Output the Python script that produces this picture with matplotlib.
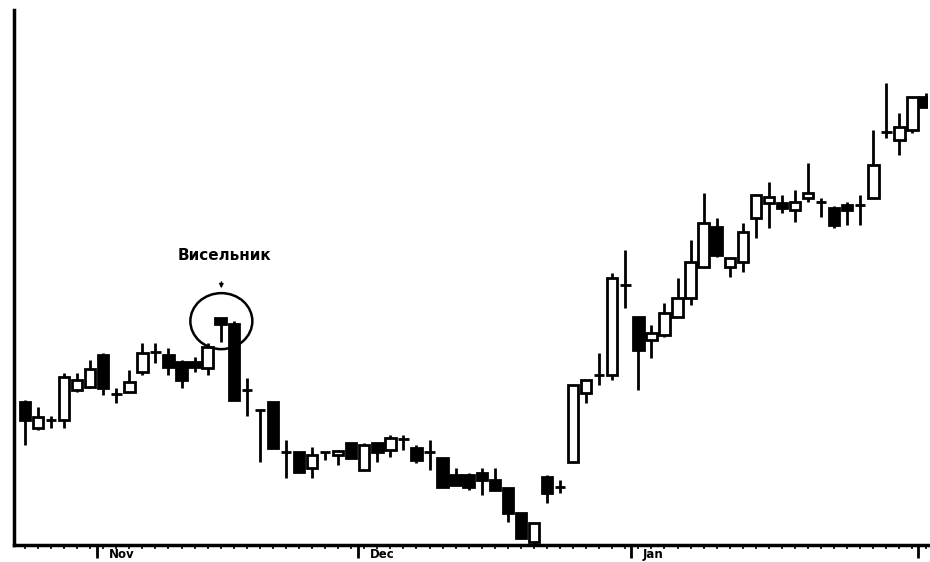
import matplotlib.pyplot as plt
from matplotlib.patches import Ellipse
from matplotlib.transforms import blended_transform_factory
import numpy as np

# Daily prices (arbitrary units).
opens = [28.6, 23.4, 25.0, 25.0, 31.0, 31.6, 38.0, 30.2, 30.6, 34.6,
         38.6, 38.0, 36.6, 36.6, 35.4, 45.4, 44.2, 31.0, 27.0, 28.6,
         18.6, 18.6, 15.4, 18.6, 18.0, 20.4, 15.0, 20.4, 19.0, 21.2,
         19.4, 18.6, 17.4, 14.0, 14.0, 14.4, 13.0, 11.4, 6.4, 0.6,
         13.6, 11.6, 16.6, 30.4, 34.0, 34.0, 52.0, 45.6, 41.0, 42.0,
         45.6, 49.4, 55.6, 63.6, 55.6, 56.6, 65.4, 68.4, 68.4, 67.0,
         69.4, 68.6, 67.4, 68.0, 68.0, 69.4, 82.6, 81.0, 83.0, 89.6]
highs = [29.0, 27.6, 25.8, 34.4, 34.4, 37.0, 38.4, 31.4, 35.0, 40.4,
         40.4, 39.4, 37.0, 37.6, 40.4, 45.4, 44.8, 33.4, 27.0, 28.6,
         21.0, 18.6, 19.6, 18.6, 19.0, 20.4, 20.4, 20.4, 22.0, 22.0,
         20.0, 21.0, 17.4, 15.4, 14.4, 15.4, 15.4, 11.4, 6.4, 4.4,
         14.0, 13.0, 32.0, 33.0, 38.4, 54.4, 59.0, 45.6, 44.0, 48.4,
         53.4, 61.0, 70.4, 65.4, 57.4, 64.4, 70.0, 72.6, 70.0, 71.0,
         76.4, 69.4, 67.8, 68.6, 70.0, 83.0, 92.4, 86.4, 89.6, 90.4]
lows = [20.0, 23.0, 23.4, 23.4, 30.6, 31.4, 30.0, 28.4, 30.6, 34.0,
        36.4, 34.0, 31.4, 34.6, 34.0, 40.6, 29.0, 25.8, 16.6, 19.4,
        13.4, 14.6, 13.4, 17.0, 16.0, 17.4, 15.0, 16.6, 17.6, 19.0,
        16.4, 15.0, 11.6, 12.0, 11.0, 10.0, 11.0, 4.6, 1.4, 0.2,
        8.4, 10.4, 16.6, 28.4, 32.0, 33.0, 47.4, 31.0, 37.4, 41.6,
        45.6, 48.0, 55.6, 57.6, 53.6, 54.6, 61.4, 63.4, 66.4, 64.6,
        68.6, 65.6, 63.4, 64.0, 64.0, 69.4, 81.4, 78.0, 82.4, 87.6]
closes = [25.0, 25.6, 25.0, 33.6, 33.0, 35.2, 31.4, 30.2, 32.6, 38.4,
          38.6, 35.6, 33.0, 35.6, 39.6, 44.2, 29.0, 31.0, 27.0, 19.4,
          18.6, 14.6, 18.0, 18.6, 18.8, 17.4, 20.0, 18.6, 21.4, 21.2,
          17.0, 18.6, 11.6, 12.0, 11.6, 13.0, 11.0, 6.4, 1.4, 4.4,
          10.4, 11.6, 32.0, 33.0, 34.0, 53.4, 52.0, 39.0, 42.4, 46.4,
          49.4, 56.6, 64.4, 58.0, 57.4, 62.6, 70.0, 69.6, 67.4, 68.6,
          70.4, 68.6, 64.0, 67.0, 68.0, 76.0, 82.6, 83.6, 89.6, 87.6]

month_labels = ['Nov', 'Dec', 'Jan']
month_ticks = [5.5, 25.5, 46.4]
last_tick = 68.4

hanging_man = 15  # index of the hanging man candle
note = 'Висельник'

fig = plt.figure(figsize=(9.3, 5.62), dpi=100)
ax = fig.add_axes([0.015, 0.03, 0.983, 0.952])

x = np.arange(len(opens))
o = np.array(opens)
c = np.array(closes)

# Wicks first, bodies on top.
ax.vlines(x, lows, highs, color='black', lw=2.0, zorder=1)
body_colors = ['white' if cl >= op else 'black' for op, cl in zip(o, c)]
ax.bar(x, np.abs(c - o), bottom=np.minimum(o, c), width=0.8,
       color=body_colors, edgecolor='black', linewidth=2.0, zorder=2)

ax.set_xlim(-0.84, 69.2)
ax.set_ylim(0, 107)

# Axes look: only left and bottom lines.
ax.spines['top'].set_visible(False)
ax.spines['right'].set_visible(False)
ax.spines['left'].set_linewidth(2.5)
ax.spines['bottom'].set_linewidth(2.5)
ax.set_yticks([])
ax.set_xticks(month_ticks + [last_tick])
ax.set_xticklabels([])
ax.set_xticks(x, minor=True)
ax.tick_params(axis='x', which='major', direction='out', length=9, width=2)
ax.tick_params(axis='x', which='minor', direction='out', length=3, width=1.2)

trans = blended_transform_factory(ax.transData, ax.transAxes)
for pos, lab in zip(month_ticks, month_labels):
    ax.text(pos + 0.9, -0.024, lab, transform=trans, ha='left', va='baseline',
            fontsize=8.5, fontweight='bold', clip_on=False)

# Hanging man annotation.
ax.text(hanging_man + 0.3, 58, note, ha='center', va='center',
        fontsize=11, fontweight='bold')
ax.annotate('', xy=(hanging_man + 0.05, 50.8), xytext=(hanging_man + 0.05, 53.2),
            arrowprops=dict(arrowstyle='-|>', color='black', lw=1, mutation_scale=6))
ax.add_patch(Ellipse((hanging_man + 0.05, 44.8), 4.75, 11.2, fill=False,
                     edgecolor='black', lw=1.8, zorder=3))

fig.savefig('out.png', dpi=100)
